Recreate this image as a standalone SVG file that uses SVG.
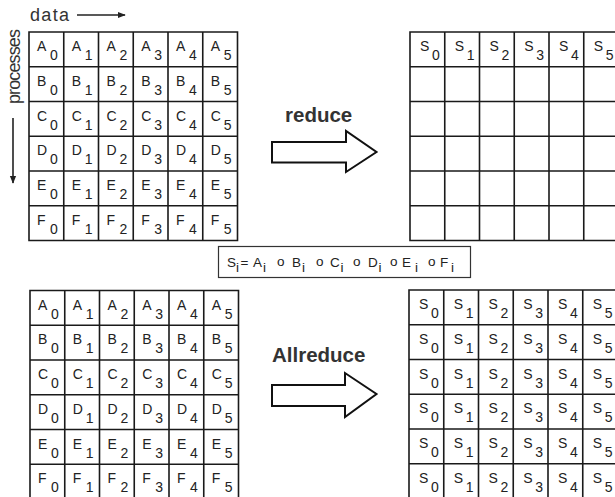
<svg xmlns="http://www.w3.org/2000/svg" xmlns:xlink="http://www.w3.org/1999/xlink" width="615" height="497" viewBox="0 0 615 497">
<style>
text{font-family:"Liberation Sans",Arial,sans-serif;fill:#222}
.c{font-size:14px}
.f{font-size:13.5px}
.lbl{font-size:18px;fill:#333}
.op{font-size:20.5px;font-weight:bold;fill:#333}
.grid{fill:none;stroke:#1a1a1a;stroke-width:1.6}
.bigarrow{fill:#fff;stroke:#111;stroke-width:2;stroke-linejoin:miter}
.thin{stroke:#222;stroke-width:1.6;fill:none}
</style>
<defs>
<path id="gridlines" class="grid" d="M0 0H208.5V208.5H0Z M34.75 0V208.5 M69.5 0V208.5 M104.25 0V208.5 M139 0V208.5 M173.75 0V208.5 M0 34.75H208.5 M0 69.5H208.5 M0 104.25H208.5 M0 139H208.5 M0 173.75H208.5"/>
<marker id="ah" viewBox="0 0 10 10" refX="9" refY="5" markerWidth="5" markerHeight="5" orient="auto" markerUnits="strokeWidth"><path d="M0 1L10 5L0 9Z" fill="#222"/></marker>
</defs>
<rect width="615" height="497" fill="#fff"/>

<g id="label-data">
<text class="lbl" x="30" y="21" textLength="39">data</text>
<line class="thin" x1="77" y1="15" x2="125" y2="15" marker-end="url(#ah)"/>
</g>
<g id="label-processes">
<text class="lbl" transform="translate(20,104) rotate(-90)" textLength="75">processes</text>
<line class="thin" x1="13" y1="118" x2="13" y2="183" marker-end="url(#ah)"/>
</g>

<g id="grid-top-left" class="c" transform="translate(29,32)">
<use xlink:href="#gridlines"/>
<text x="8" y="19">A<tspan x="21" y="28">0</tspan></text><text x="42.75" y="19">A<tspan x="55.75" y="28">1</tspan></text><text x="77.5" y="19">A<tspan x="90.5" y="28">2</tspan></text><text x="112.25" y="19">A<tspan x="125.25" y="28">3</tspan></text><text x="147" y="19">A<tspan x="160" y="28">4</tspan></text><text x="181.75" y="19">A<tspan x="194.75" y="28">5</tspan></text>
<text x="8" y="53.75">B<tspan x="21" y="62.75">0</tspan></text><text x="42.75" y="53.75">B<tspan x="55.75" y="62.75">1</tspan></text><text x="77.5" y="53.75">B<tspan x="90.5" y="62.75">2</tspan></text><text x="112.25" y="53.75">B<tspan x="125.25" y="62.75">3</tspan></text><text x="147" y="53.75">B<tspan x="160" y="62.75">4</tspan></text><text x="181.75" y="53.75">B<tspan x="194.75" y="62.75">5</tspan></text>
<text x="8" y="88.5">C<tspan x="21" y="97.5">0</tspan></text><text x="42.75" y="88.5">C<tspan x="55.75" y="97.5">1</tspan></text><text x="77.5" y="88.5">C<tspan x="90.5" y="97.5">2</tspan></text><text x="112.25" y="88.5">C<tspan x="125.25" y="97.5">3</tspan></text><text x="147" y="88.5">C<tspan x="160" y="97.5">4</tspan></text><text x="181.75" y="88.5">C<tspan x="194.75" y="97.5">5</tspan></text>
<text x="8" y="123.25">D<tspan x="21" y="132.25">0</tspan></text><text x="42.75" y="123.25">D<tspan x="55.75" y="132.25">1</tspan></text><text x="77.5" y="123.25">D<tspan x="90.5" y="132.25">2</tspan></text><text x="112.25" y="123.25">D<tspan x="125.25" y="132.25">3</tspan></text><text x="147" y="123.25">D<tspan x="160" y="132.25">4</tspan></text><text x="181.75" y="123.25">D<tspan x="194.75" y="132.25">5</tspan></text>
<text x="8" y="158">E<tspan x="21" y="167">0</tspan></text><text x="42.75" y="158">E<tspan x="55.75" y="167">1</tspan></text><text x="77.5" y="158">E<tspan x="90.5" y="167">2</tspan></text><text x="112.25" y="158">E<tspan x="125.25" y="167">3</tspan></text><text x="147" y="158">E<tspan x="160" y="167">4</tspan></text><text x="181.75" y="158">E<tspan x="194.75" y="167">5</tspan></text>
<text x="8" y="192.75">F<tspan x="21" y="201.75">0</tspan></text><text x="42.75" y="192.75">F<tspan x="55.75" y="201.75">1</tspan></text><text x="77.5" y="192.75">F<tspan x="90.5" y="201.75">2</tspan></text><text x="112.25" y="192.75">F<tspan x="125.25" y="201.75">3</tspan></text><text x="147" y="192.75">F<tspan x="160" y="201.75">4</tspan></text><text x="181.75" y="192.75">F<tspan x="194.75" y="201.75">5</tspan></text>
</g>

<g id="grid-top-right" class="c" transform="translate(410,32)">
<use xlink:href="#gridlines"/>
<text x="10" y="19">S<tspan x="22" y="28">0</tspan></text><text x="44.75" y="19">S<tspan x="56.75" y="28">1</tspan></text><text x="79.5" y="19">S<tspan x="91.5" y="28">2</tspan></text><text x="114.25" y="19">S<tspan x="126.25" y="28">3</tspan></text><text x="149" y="19">S<tspan x="161" y="28">4</tspan></text><text x="183.75" y="19">S<tspan x="195.75" y="28">5</tspan></text>
</g>

<g id="formula">
<rect x="218.5" y="246.5" width="252" height="31" fill="#fff" stroke="#333" stroke-width="1.2"/>
<g class="f">
<text x="227" y="267">S</text><text x="236" y="272">i</text><text x="240.5" y="267">=</text>
<text x="253" y="267">A</text><text x="263" y="272">i</text><text x="277" y="266">o</text>
<text x="292" y="267">B</text><text x="302" y="272">i</text><text x="316" y="266">o</text>
<text x="330" y="267">C</text><text x="340.5" y="272">i</text><text x="353" y="266">o</text>
<text x="368" y="267">D</text><text x="378.5" y="272">i</text><text x="390" y="266">o</text>
<text x="402" y="267">E</text><text x="415" y="272">i</text><text x="428" y="266">o</text>
<text x="440" y="267">F</text><text x="451" y="272">i</text>
</g>
</g>

<g id="grid-bottom-left" class="c" transform="translate(30,290.5)">
<use xlink:href="#gridlines"/>
<text x="8" y="19">A<tspan x="21" y="28">0</tspan></text><text x="42.75" y="19">A<tspan x="55.75" y="28">1</tspan></text><text x="77.5" y="19">A<tspan x="90.5" y="28">2</tspan></text><text x="112.25" y="19">A<tspan x="125.25" y="28">3</tspan></text><text x="147" y="19">A<tspan x="160" y="28">4</tspan></text><text x="181.75" y="19">A<tspan x="194.75" y="28">5</tspan></text>
<text x="8" y="53.75">B<tspan x="21" y="62.75">0</tspan></text><text x="42.75" y="53.75">B<tspan x="55.75" y="62.75">1</tspan></text><text x="77.5" y="53.75">B<tspan x="90.5" y="62.75">2</tspan></text><text x="112.25" y="53.75">B<tspan x="125.25" y="62.75">3</tspan></text><text x="147" y="53.75">B<tspan x="160" y="62.75">4</tspan></text><text x="181.75" y="53.75">B<tspan x="194.75" y="62.75">5</tspan></text>
<text x="8" y="88.5">C<tspan x="21" y="97.5">0</tspan></text><text x="42.75" y="88.5">C<tspan x="55.75" y="97.5">1</tspan></text><text x="77.5" y="88.5">C<tspan x="90.5" y="97.5">2</tspan></text><text x="112.25" y="88.5">C<tspan x="125.25" y="97.5">3</tspan></text><text x="147" y="88.5">C<tspan x="160" y="97.5">4</tspan></text><text x="181.75" y="88.5">C<tspan x="194.75" y="97.5">5</tspan></text>
<text x="8" y="123.25">D<tspan x="21" y="132.25">0</tspan></text><text x="42.75" y="123.25">D<tspan x="55.75" y="132.25">1</tspan></text><text x="77.5" y="123.25">D<tspan x="90.5" y="132.25">2</tspan></text><text x="112.25" y="123.25">D<tspan x="125.25" y="132.25">3</tspan></text><text x="147" y="123.25">D<tspan x="160" y="132.25">4</tspan></text><text x="181.75" y="123.25">D<tspan x="194.75" y="132.25">5</tspan></text>
<text x="8" y="158">E<tspan x="21" y="167">0</tspan></text><text x="42.75" y="158">E<tspan x="55.75" y="167">1</tspan></text><text x="77.5" y="158">E<tspan x="90.5" y="167">2</tspan></text><text x="112.25" y="158">E<tspan x="125.25" y="167">3</tspan></text><text x="147" y="158">E<tspan x="160" y="167">4</tspan></text><text x="181.75" y="158">E<tspan x="194.75" y="167">5</tspan></text>
<text x="8" y="192.75">F<tspan x="21" y="201.75">0</tspan></text><text x="42.75" y="192.75">F<tspan x="55.75" y="201.75">1</tspan></text><text x="77.5" y="192.75">F<tspan x="90.5" y="201.75">2</tspan></text><text x="112.25" y="192.75">F<tspan x="125.25" y="201.75">3</tspan></text><text x="147" y="192.75">F<tspan x="160" y="201.75">4</tspan></text><text x="181.75" y="192.75">F<tspan x="194.75" y="201.75">5</tspan></text>
</g>

<g id="grid-bottom-right" class="c" transform="translate(409,290)">
<use xlink:href="#gridlines"/>
<text x="10" y="19">S<tspan x="22" y="28">0</tspan></text><text x="44.75" y="19">S<tspan x="56.75" y="28">1</tspan></text><text x="79.5" y="19">S<tspan x="91.5" y="28">2</tspan></text><text x="114.25" y="19">S<tspan x="126.25" y="28">3</tspan></text><text x="149" y="19">S<tspan x="161" y="28">4</tspan></text><text x="183.75" y="19">S<tspan x="195.75" y="28">5</tspan></text>
<text x="10" y="53.75">S<tspan x="22" y="62.75">0</tspan></text><text x="44.75" y="53.75">S<tspan x="56.75" y="62.75">1</tspan></text><text x="79.5" y="53.75">S<tspan x="91.5" y="62.75">2</tspan></text><text x="114.25" y="53.75">S<tspan x="126.25" y="62.75">3</tspan></text><text x="149" y="53.75">S<tspan x="161" y="62.75">4</tspan></text><text x="183.75" y="53.75">S<tspan x="195.75" y="62.75">5</tspan></text>
<text x="10" y="88.5">S<tspan x="22" y="97.5">0</tspan></text><text x="44.75" y="88.5">S<tspan x="56.75" y="97.5">1</tspan></text><text x="79.5" y="88.5">S<tspan x="91.5" y="97.5">2</tspan></text><text x="114.25" y="88.5">S<tspan x="126.25" y="97.5">3</tspan></text><text x="149" y="88.5">S<tspan x="161" y="97.5">4</tspan></text><text x="183.75" y="88.5">S<tspan x="195.75" y="97.5">5</tspan></text>
<text x="10" y="123.25">S<tspan x="22" y="132.25">0</tspan></text><text x="44.75" y="123.25">S<tspan x="56.75" y="132.25">1</tspan></text><text x="79.5" y="123.25">S<tspan x="91.5" y="132.25">2</tspan></text><text x="114.25" y="123.25">S<tspan x="126.25" y="132.25">3</tspan></text><text x="149" y="123.25">S<tspan x="161" y="132.25">4</tspan></text><text x="183.75" y="123.25">S<tspan x="195.75" y="132.25">5</tspan></text>
<text x="10" y="158">S<tspan x="22" y="167">0</tspan></text><text x="44.75" y="158">S<tspan x="56.75" y="167">1</tspan></text><text x="79.5" y="158">S<tspan x="91.5" y="167">2</tspan></text><text x="114.25" y="158">S<tspan x="126.25" y="167">3</tspan></text><text x="149" y="158">S<tspan x="161" y="167">4</tspan></text><text x="183.75" y="158">S<tspan x="195.75" y="167">5</tspan></text>
<text x="10" y="192.75">S<tspan x="22" y="201.75">0</tspan></text><text x="44.75" y="192.75">S<tspan x="56.75" y="201.75">1</tspan></text><text x="79.5" y="192.75">S<tspan x="91.5" y="201.75">2</tspan></text><text x="114.25" y="192.75">S<tspan x="126.25" y="201.75">3</tspan></text><text x="149" y="192.75">S<tspan x="161" y="201.75">4</tspan></text><text x="183.75" y="192.75">S<tspan x="195.75" y="201.75">5</tspan></text>
</g>

<g id="connectors">
<g id="reduce-arrow">
<text class="op" x="285" y="122">reduce</text>
<path class="bigarrow" d="M272 142H346V131L376.5 152L346 172V162.5H272Z"/>
</g>
<g id="allreduce-arrow">
<text class="op" x="272" y="362">Allreduce</text>
<path class="bigarrow" d="M272 385H345V373L376.5 394L345 417V406H272Z"/>
</g>
</g>
</svg>
